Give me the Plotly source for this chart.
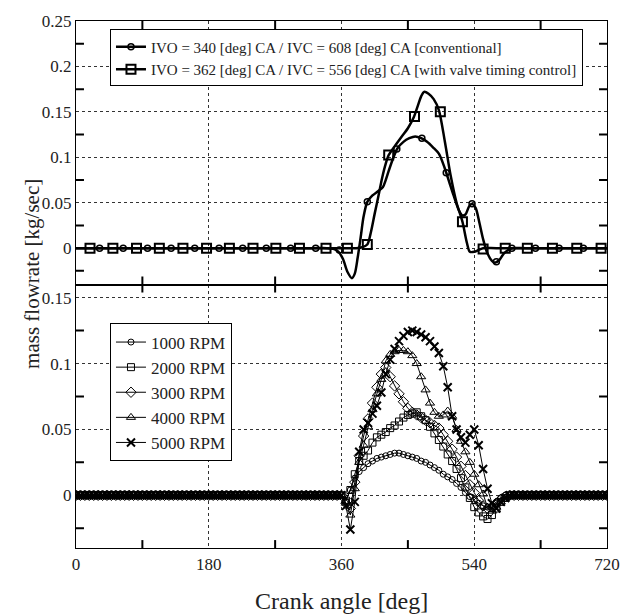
import plotly.graph_objects as go

FONT = "Liberation Serif"

# ---------------- data: top panel (valve timing comparison) ----------------
CONV_X = [0, 320, 340, 350, 356, 362, 368, 374, 378, 382, 386, 390, 395, 402, 410, 416, 420, 424, 430, 436,
          444, 452, 460, 468, 476, 484, 492, 500, 506, 512, 519, 524, 528, 533, 537, 542, 547, 552, 558, 564,
          568, 574, 580, 586, 592, 610, 720]
CONV_Y = [0, 0, 0, -0.001, -0.004, -0.012, -0.026, -0.033, -0.028, -0.010, 0.012, 0.035, 0.051, 0.058, 0.063,
          0.067, 0.075, 0.085, 0.099, 0.110, 0.117, 0.121, 0.123, 0.121, 0.117, 0.111, 0.104, 0.088, 0.073, 0.058,
          0.042, 0.036, 0.037, 0.046, 0.049, 0.044, 0.028, 0.010, -0.006, -0.014, -0.016, -0.013, -0.006, -0.002,
          0, 0, 0]
CONV_MARK_X = [32, 64, 97, 129, 161, 194, 226, 258, 291, 325, 357, 395, 435, 469, 502, 537, 570, 591, 623, 655, 688]
CONV_MARK_Y = [0, 0, 0, 0, 0, 0, 0, 0, 0, 0, -0.002, 0.051, 0.109, 0.121, 0.083, 0.049, -0.015, 0, 0, 0, 0]

VTC_X = [0, 360, 380, 388, 395, 400, 405, 410, 415, 420, 424, 432, 440, 450, 458, 464, 468, 472, 478, 485,
         492, 500, 508, 516, 524, 530, 534, 540, 546, 552, 570, 720]
VTC_Y = [0, 0, 0, 0.001, 0.004, 0.018, 0.038, 0.057, 0.077, 0.093, 0.1025, 0.112, 0.121, 0.132, 0.144, 0.158,
         0.167, 0.172, 0.170, 0.164, 0.152, 0.118, 0.080, 0.050, 0.029, 0.006, -0.004, -0.004, -0.002, 0, 0, 0]
VTC_MARK_X = [19, 50, 82, 113, 145, 177, 208, 240, 271, 303, 339, 368, 395, 424, 459, 494, 524, 552, 582, 612,
              646, 679, 712]
VTC_MARK_Y = [0, 0, 0, 0, 0, 0, 0, 0, 0, 0, 0, 0, 0.004, 0.1025, 0.145, 0.150, 0.029, -0.001, 0, 0, 0, 0, 0]

TOP_NAMES = ["IVO = 340 [deg] CA / IVC = 608 [deg] CA [conventional]",
             "IVO = 362 [deg] CA / IVC = 556 [deg] CA [with valve timing control]"]

# ---------------- data: bottom panel (engine speed) ----------------
QUIET_LEFT_X = list(range(0, 360, 6))
QUIET_RIGHT_X = list(range(594, 721, 6))
ACTIVE_X = [360, 366, 372, 378, 384, 390, 396, 402, 408, 414, 420, 426, 432, 438, 444, 450, 456, 462, 468, 474,
            480, 486, 492, 498, 504, 510, 516, 522, 528, 534, 540, 546, 552, 558, 564, 570, 576, 582, 588]

RPM_1000 = [0, -0.004, 0.004, 0.013, 0.018, 0.021, 0.024, 0.026, 0.028, 0.029,
            0.030, 0.031, 0.032, 0.032, 0.031, 0.030, 0.029, 0.028, 0.026, 0.025,
            0.023, 0.021, 0.019, 0.016, 0.014, 0.012, 0.009, 0.006, 0.002, -0.001,
            -0.004, -0.006, -0.008, -0.009, -0.008, -0.005, -0.002, 0, 0]
RPM_2000 = [0, -0.004, 0.004, 0.016, 0.026, 0.030, 0.034, 0.040, 0.044, 0.046,
            0.048, 0.051, 0.053, 0.056, 0.059, 0.061, 0.062, 0.063, 0.060, 0.057,
            0.052, 0.047, 0.042, 0.037, 0.031, 0.026, 0.020, 0.013, 0.006, -0.002,
            -0.009, -0.013, -0.016, -0.018, -0.015, -0.010, -0.005, -0.002, 0]
RPM_3000 = [0, -0.006, -0.010, 0.010, 0.030, 0.045, 0.058, 0.070, 0.082, 0.092,
            0.097, 0.090, 0.083, 0.077, 0.071, 0.066, 0.063, 0.061, 0.059, 0.057,
            0.055, 0.053, 0.051, 0.046, 0.041, 0.035, 0.029, 0.022, 0.015, 0.008,
            0.002, -0.004, -0.008, -0.010, -0.009, -0.006, -0.003, -0.001, 0]
RPM_4000 = [0, -0.006, -0.015, 0.005, 0.025, 0.038, 0.052, 0.065, 0.077, 0.088,
            0.102, 0.107, 0.109, 0.110, 0.110, 0.109, 0.106, 0.100, 0.090, 0.080,
            0.070, 0.063, 0.060, 0.061, 0.064, 0.060, 0.050, 0.041, 0.033, 0.025,
            0.016, 0.008, 0.001, -0.009, -0.012, -0.009, -0.005, -0.002, 0]
RPM_5000 = [0, -0.008, -0.026, -0.005, 0.033, 0.050, 0.055, 0.062, 0.068, 0.078,
            0.092, 0.103, 0.111, 0.117, 0.121, 0.124, 0.125, 0.124, 0.122, 0.120,
            0.117, 0.113, 0.108, 0.098, 0.082, 0.060, 0.050, 0.044, 0.040, 0.046,
            0.050, 0.038, 0.020, 0.005, -0.006, -0.010, -0.005, -0.002, 0]

RPM_NAMES = ["1000 RPM", "2000 RPM", "3000 RPM", "4000 RPM", "5000 RPM"]
RPM_SERIES = [RPM_1000, RPM_2000, RPM_3000, RPM_4000, RPM_5000]

# ---------------- axis ticks ----------------
X_TICKS = [0, 180, 360, 540, 720]
X_TICKTEXT = ["0", "180", "360", "540", "720"]
X_MINOR = [90, 270, 450, 630]
Y_TOP_TICKS = [0, 0.05, 0.1, 0.15, 0.2, 0.25]
Y_TOP_TEXT = ["0", "0.05", "0.1", "0.15", "0.2", "0.25"]
Y_TOP_MINOR = [-0.025, 0.025, 0.075, 0.125, 0.175, 0.225]
Y_BOT_TICKS = [0, 0.05, 0.1, 0.15]
Y_BOT_TEXT = ["0", "0.05", "0.1", "0.15"]
Y_BOT_MINOR = [-0.025, 0.025, 0.075, 0.125]

X_RANGE = [0, 720]
Y_TOP_RANGE = [-0.04, 0.25]
Y_BOT_RANGE = [-0.04, 0.16]

fig = go.Figure()

# ---- bottom panel traces ----
symbols = ["circle-open", "square-open", "diamond-open", "triangle-up-open", "x-thin-open"]
sizes = [6, 7, 8, 8, 8]
mwidths = [1, 1, 1, 1, 2]
for name, ys, sym, sz, mw in zip(RPM_NAMES, RPM_SERIES, symbols, sizes, mwidths):
    xs = QUIET_LEFT_X + ACTIVE_X + QUIET_RIGHT_X
    yy = [0] * len(QUIET_LEFT_X) + ys + [0] * len(QUIET_RIGHT_X)
    fig.add_trace(go.Scatter(
        x=xs, y=yy, name=name, mode="lines+markers", xaxis="x", yaxis="y",
        line=dict(color="black", width=1),
        marker=dict(symbol=sym, size=sz, color="black", line=dict(color="black", width=mw)),
        legend="legend"))

# ---- top panel traces ----
fig.add_trace(go.Scatter(x=CONV_X, y=CONV_Y, mode="lines", xaxis="x2", yaxis="y2", showlegend=False,
                         line=dict(color="black", width=2.5, shape="spline", smoothing=0.8)))
fig.add_trace(go.Scatter(x=VTC_X, y=VTC_Y, mode="lines", xaxis="x2", yaxis="y2", showlegend=False,
                         line=dict(color="black", width=2.5, shape="spline", smoothing=0.8)))
fig.add_trace(go.Scatter(x=CONV_MARK_X, y=CONV_MARK_Y, mode="markers", xaxis="x2", yaxis="y2", showlegend=False,
                         marker=dict(symbol="circle-open", size=6, color="black", line=dict(color="black", width=1.5))))
fig.add_trace(go.Scatter(x=VTC_MARK_X, y=VTC_MARK_Y, mode="markers", xaxis="x2", yaxis="y2", showlegend=False,
                         marker=dict(symbol="square-open", size=9, color="black", line=dict(color="black", width=2))))
# legend entries for top panel
fig.add_trace(go.Scatter(x=[None], y=[None], mode="lines+markers", xaxis="x2", yaxis="y2", name=TOP_NAMES[0],
                         line=dict(color="black", width=2.5),
                         marker=dict(symbol="circle-open", size=6, color="black", line=dict(color="black", width=1.5)),
                         legend="legend2"))
fig.add_trace(go.Scatter(x=[None], y=[None], mode="lines+markers", xaxis="x2", yaxis="y2", name=TOP_NAMES[1],
                         line=dict(color="black", width=2.5),
                         marker=dict(symbol="square-open", size=9, color="black", line=dict(color="black", width=2)),
                         legend="legend2"))

# ---- inward tick marks between grid lines, derived from the tick arrays and axis ranges ----
TICK_PX = 8
PLOT_W, PANEL_H = 533, 266


def tick_path(xminor, yminor, xr, yr):
    dx = TICK_PX / PLOT_W * (xr[1] - xr[0])
    dy = TICK_PX / PANEL_H * (yr[1] - yr[0])
    px, py = [], []
    for v in xminor:
        px += [v, v, None, v, v, None]
        py += [yr[0], yr[0] + dy, None, yr[1], yr[1] - dy, None]
    for v in yminor:
        px += [xr[0], xr[0] + dx, None, xr[1], xr[1] - dx, None]
        py += [v, v, None, v, v, None]
    return px, py


for xa, ya, ymin, yrng in (("x", "y", Y_BOT_MINOR, Y_BOT_RANGE), ("x2", "y2", Y_TOP_MINOR, Y_TOP_RANGE)):
    tx, ty = tick_path(X_MINOR, ymin, X_RANGE, yrng)
    fig.add_trace(go.Scatter(x=tx, y=ty, mode="lines", xaxis=xa, yaxis=ya, showlegend=False,
                             hoverinfo="skip", cliponaxis=False, connectgaps=False,
                             line=dict(color="black", width=2)))

tickfont = dict(family=FONT, size=17, color="#222")


def grid_axis(**kw):
    base = dict(showline=True, linecolor="black", linewidth=1.2, mirror=True, ticks="",
                tickmode="array", showgrid=True, gridcolor="#333", griddash="dot", gridwidth=1,
                zeroline=False, tickfont=tickfont)
    base.update(kw)
    return base


fig.update_layout(
    width=632, height=614,
    margin=dict(l=76, r=23, t=16, b=66),
    paper_bgcolor="white", plot_bgcolor="white",
    font=dict(family=FONT, color="#222"),
    xaxis=grid_axis(domain=[0, 1], anchor="y", range=X_RANGE, tickvals=X_TICKS, ticktext=X_TICKTEXT),
    xaxis2=grid_axis(domain=[0, 1], anchor="y2", range=X_RANGE, matches="x", tickvals=X_TICKS,
                     showticklabels=False),
    yaxis=grid_axis(domain=[0, 0.5], anchor="x", range=Y_BOT_RANGE, tickvals=Y_BOT_TICKS, ticktext=Y_BOT_TEXT),
    yaxis2=grid_axis(domain=[0.5, 1], anchor="x2", range=Y_TOP_RANGE, tickvals=Y_TOP_TICKS, ticktext=Y_TOP_TEXT),
    legend=dict(x=0.064, y=0.426, xanchor="left", yanchor="top", bgcolor="white",
                bordercolor="black", borderwidth=1, font=dict(family=FONT, size=17, color="#222")),
    legend2=dict(x=0.064, y=0.984, xanchor="left", yanchor="top", bgcolor="white",
                 bordercolor="black", borderwidth=1, font=dict(family=FONT, size=15, color="#222")),
    annotations=[
        dict(text="Crank angle [deg]", xref="paper", yref="paper", x=0.5, y=-0.1, xanchor="center",
             yanchor="middle", showarrow=False, font=dict(family=FONT, size=24, color="#222")),
        dict(text="mass flowrate [kg/sec]", xref="paper", yref="paper", x=-0.083, y=0.52, xanchor="center",
             yanchor="middle", textangle=-90, showarrow=False, font=dict(family=FONT, size=21, color="#222")),
    ],
)

fig.write_html("out.html")
